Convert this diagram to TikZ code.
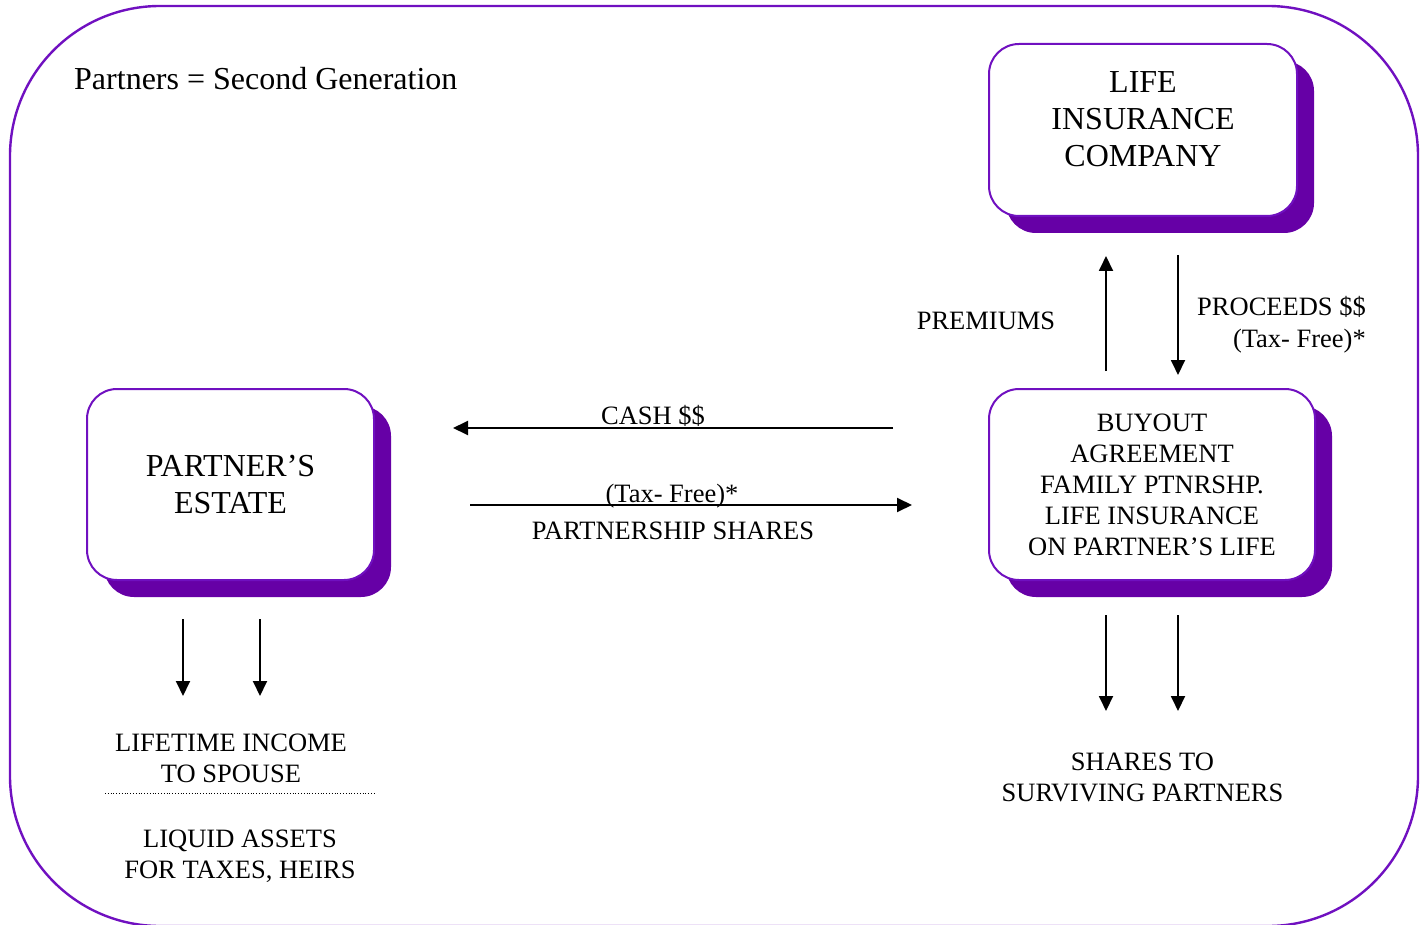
\documentclass[tikz,border=0pt]{standalone}
\usepackage{fontspec}
\setmainfont{Liberation Serif}
\usetikzlibrary{arrows.meta,shadows}
\definecolor{frameviolet}{RGB}{112,16,192}
\definecolor{shadeviolet}{RGB}{102,0,166}
\begin{document}
\begin{tikzpicture}[x=1pt,y=-1pt,
  bigtext/.style={font=\fontsize{32}{37}\selectfont},
  smalltext/.style={font=\fontsize{26.5}{31}\selectfont},
  bigbox/.style={draw=frameviolet, line width=2pt, fill=white, rounded corners=30pt,
    general shadow={shadow xshift=17pt, shadow yshift=-17pt, fill=shadeviolet, draw=none}},
  arr/.style={line width=1.9pt, -{Triangle[length=15pt,width=14pt]}},
  lbl/.style={smalltext, inner sep=0pt, anchor=base}]
\useasboundingbox (0,0) rectangle (1424,925);
\draw[frameviolet, line width=2.4pt, rounded corners=150pt] (10,6) rectangle (1418,926);

\node[bigtext, inner sep=0pt, anchor=base west] (title) at (74,90) {Partners = Second Generation};

\node[bigbox, minimum width=308pt, minimum height=172pt] (lic) at (1143,130) {};
\node[bigtext, align=center, inner sep=0pt] (lictext) at ([yshift=10.5pt]lic.center) {LIFE\\INSURANCE\\COMPANY};

\node[bigbox, smalltext, align=center, minimum width=326pt, minimum height=191pt, inner sep=0pt] (buyout) at (1152,484.5)
  {BUYOUT\\AGREEMENT\\FAMILY PTNRSHP.\\LIFE INSURANCE\\ON PARTNER’S LIFE};

\node[bigbox, bigtext, align=center, minimum width=287pt, minimum height=191pt, inner sep=0pt] (estate) at (230.5,484.5)
  {PARTNER’S\\ESTATE};

% connectors
\coordinate (cashS) at (893,428);
\coordinate (cashE) at (453,428);
\coordinate (shS) at (470,505);
\coordinate (shE) at (912,505);
\coordinate (premS) at (1106,371);
\coordinate (premE) at (1106,256);
\coordinate (procS) at (1178,255);
\coordinate (procE) at (1178,375);
\coordinate (eaS) at (183,619);
\coordinate (eaE) at (183,696);
\coordinate (ebS) at (260,619);
\coordinate (ebE) at (260,696);
\coordinate (baS) at (1106,615);
\coordinate (baE) at (1106,711);
\coordinate (bbS) at (1178,615);
\coordinate (bbE) at (1178,711);
\draw[arr] (cashS) -- (cashE);
\draw[arr] (shS) -- (shE);
\draw[arr] (premS) -- (premE);
\draw[arr] (procS) -- (procE);
\draw[arr] (eaS) -- (eaE);
\draw[arr] (ebS) -- (ebE);
\draw[arr] (baS) -- (baE);
\draw[arr] (bbS) -- (bbE);

% labels
\node[lbl] (cash) at (653,424) {CASH \$\$};
\node[lbl] (taxfree) at (672,502) {(Tax- Free)*};
\node[lbl] (pshares) at (673,539) {PARTNERSHIP SHARES};
\node[lbl] (prem) at (986,329) {PREMIUMS};
\node[lbl, anchor=base east, align=right, font=\fontsize{26.5}{32}\selectfont] (proc) at (1366,347) {PROCEEDS \$\$\\(Tax- Free)*};
\node[lbl, align=center] (income) at (231,782) {LIFETIME INCOME\\TO SPOUSE};
\coordinate (dotA) at (105,793);
\coordinate (dotB) at (375,793);
\draw[line width=0.8pt, dotted] (dotA) -- (dotB);
\node[lbl, align=center] (liquid) at (240,878) {LIQUID ASSETS\\FOR TAXES, HEIRS};
\node[lbl, align=center] (surv) at (1142.5,801) {SHARES TO\\SURVIVING PARTNERS};
\end{tikzpicture}
\end{document}
